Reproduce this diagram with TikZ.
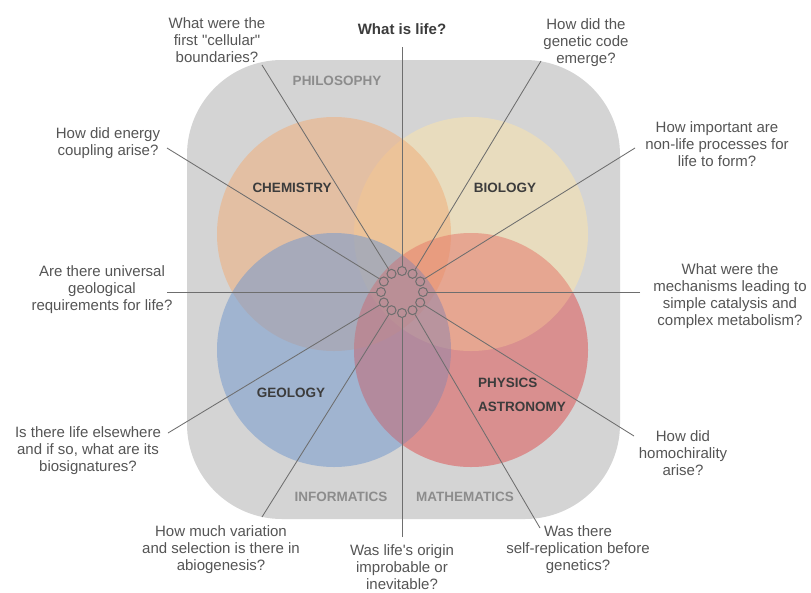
\documentclass[tikz,border=0pt]{standalone}
\usepackage{fontspec}
\newfontfamily\qf{Liberation Sans}
\definecolor{bggray}{HTML}{D4D4D4}
\definecolor{linegray}{HTML}{6E6E6E}
\definecolor{qtext}{HTML}{555555}
\definecolor{labdark}{HTML}{3C3C3C}
\definecolor{labgray}{HTML}{8C8C8C}
\definecolor{chemc}{HTML}{F1AF7B}
\definecolor{bioc}{HTML}{FAE4AC}
\definecolor{geoc}{HTML}{769ACD}
\definecolor{physc}{HTML}{DE5858}
\begin{document}
\begin{tikzpicture}[x=1pt,y=-1pt,
  q/.style={align=center,inner sep=0pt,text=qtext,font=\qf\fontsize{15}{17}\selectfont},
  qb/.style={align=center,inner sep=0pt,text=labdark,font=\qf\bfseries\fontsize{15}{17}\selectfont},
  field/.style={inner sep=0pt,text=labdark,font=\qf\bfseries\fontsize{13.5}{24}\selectfont},
  outer/.style={inner sep=0pt,text=labgray,font=\qf\bfseries\fontsize{13.5}{16}\selectfont},
  ringc/.style={circle,draw=linegray,line width=1pt,minimum size=9pt,inner sep=0pt},
  conn/.style={draw=linegray,line width=0.85pt},
  disc/.style={fill opacity=0.55}]
\useasboundingbox (0,0) rectangle (811,592);
\fill[white] (0,0) rectangle (811,592);
\fill[bggray,rounded corners=95pt] (187,60) rectangle (620,519);
% discipline circles (physics painted below and above for an even blend)
\fill[physc,fill opacity=0.35] (471,350) circle (117pt);
\fill[bioc,disc] (471,234) circle (117pt);
\fill[chemc,disc] (334,234) circle (117pt);
\fill[geoc,disc] (334,350) circle (117pt);
\fill[physc,fill opacity=0.3] (471,350) circle (117pt);
% labels
\node[outer] (philo) at (337,81) {PHILOSOPHY};
\node[outer] (info) at (341,497) {INFORMATICS};
\node[outer] (math) at (465,497) {MATHEMATICS};
\node[field] (chem) at (292,188) {CHEMISTRY};
\node[field] (bio) at (505,188) {BIOLOGY};
\node[field] (geo) at (291,393) {GEOLOGY};
\node[field,anchor=west] (phys) at (478,383) {PHYSICS};
\node[field,anchor=west] (astro) at (478,407) {ASTRONOMY};
% ring of small circles
\coordinate (ctr) at (402,292);
\foreach \a in {0,30,...,330}
  \node[ringc] (r\a) at ([shift={(\a:21pt)}]ctr) {};
% free ends of connectors
\coordinate (e90) at (402,47);
\coordinate (e60) at (541,61);
\coordinate (e30) at (635,148);
\coordinate (e0) at (640,292);
\coordinate (e330) at (634,436);
\coordinate (e300) at (540,528);
\coordinate (e270) at (402,537);
\coordinate (e240) at (262,517);
\coordinate (e210) at (168,433);
\coordinate (e180) at (167,292);
\coordinate (e150) at (167,148);
\coordinate (e120) at (262,65);
\foreach \a in {0,30,...,330}
  \draw[conn] (e\a) -- (r\a);
% questions
\node[qb] (q90) at (402,29) {What is life?};
\node[q] (q120) at (217,40) {What were the\\first "cellular"\\boundaries?};
\node[q] (q60) at (586,43) {How did the\\genetic code\\emerge?};
\node[q] (q30) at (717,144) {How important are\\non-life processes for\\life to form?};
\node[q] (q0) at (730,296) {What were the\\mechanisms leading to\\simple catalysis and\\complex metabolism?};
\node[q] (q330) at (683,453) {How did\\homochirality\\arise?};
\node[q] (q300) at (578,550) {Was there\\self-replication before\\genetics?};
\node[q] (q270) at (402,567) {Was life's origin\\improbable or\\inevitable?};
\node[q] (q240) at (221,550) {How much variation\\and selection is there in\\abiogenesis?};
\node[q] (q210) at (88,451) {Is there life elsewhere\\and if so, what are its\\biosignatures?};
\node[q] (q180) at (102,290) {Are there universal\\geological\\requirements for life?};
\node[q] (q150) at (108,143) {How did energy\\coupling arise?};
\end{tikzpicture}
\end{document}
